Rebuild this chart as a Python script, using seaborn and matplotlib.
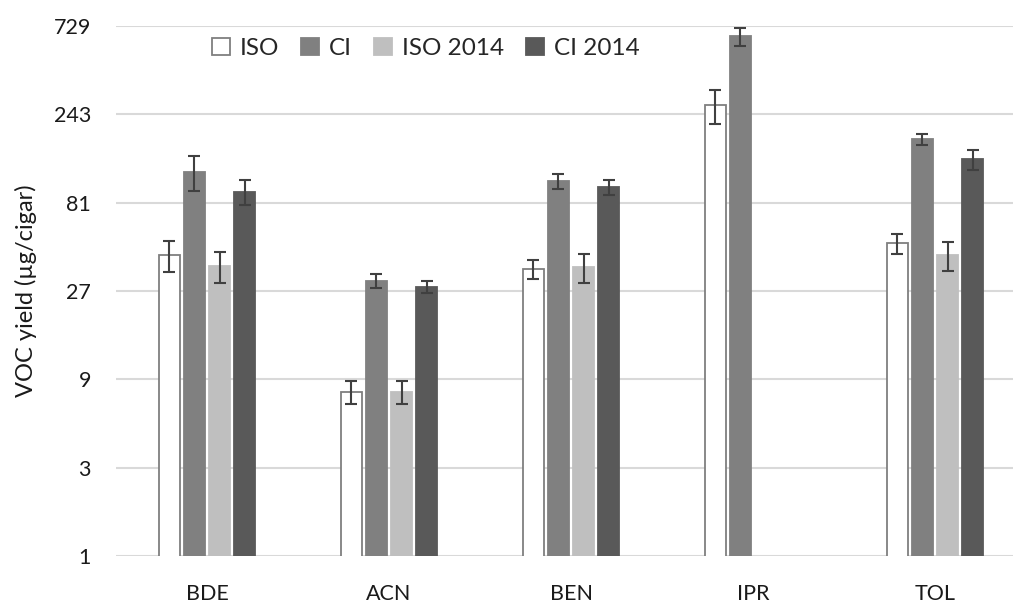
import numpy as np
import pandas as pd
import matplotlib
matplotlib.use('Agg')
import matplotlib.pyplot as plt
from matplotlib.patches import Patch
from matplotlib.ticker import FixedLocator, FixedFormatter, NullLocator
import seaborn as sns

sns.set_style('white')
plt.rcParams['font.family'] = ['Lato', 'DejaVu Sans']

# data
compounds = ['BDE', 'ACN', 'BEN', 'IPR', 'TOL']
series = ['ISO', 'CI', 'ISO 2014', 'CI 2014']
iso = [42, 7.7, 35.5, 272, 49]
ci = [119, 30.6, 106, 640, 178]
iso_2014 = [37, 7.7, 36.5, np.nan, 42]
ci_2014 = [93, 28.4, 98, np.nan, 139]
iso_err = [8, 1.1, 4, 57, 6]
ci_err = [25, 2.7, 10, 75, 12]
iso_2014_err = [7, 1.1, 6.5, np.nan, 7.5]
ci_2014_err = [14, 2.2, 9, np.nan, 17]
yticks = [1, 3, 9, 27, 81, 243, 729]

colors = ['#ffffff', '#808080', '#bfbfbf', '#595959']
edges = ['#7f7f7f', '#808080', '#bfbfbf', '#595959']

vals = [iso, ci, iso_2014, ci_2014]
errs = [iso_err, ci_err, iso_2014_err, ci_2014_err]
rows = []
for s, v, e in zip(series, vals, errs):
    for c, vv, ee in zip(compounds, v, e):
        if not np.isnan(vv):
            rows.append({'Compound': c, 'Series': s, 'Yield': vv, 'Err': ee})
df = pd.DataFrame(rows)

fig = plt.figure(figsize=(10.13, 6.05), dpi=100)
ax = fig.add_axes([116 / 1013, 1 - 556 / 605, 910 / 1013, 530 / 605])

sns.barplot(data=df, x='Compound', y='Yield', hue='Series', order=compounds,
            hue_order=series, palette=colors, width=0.55, gap=0.16,
            errorbar=None, legend=False, ax=ax, zorder=2)

err_lookup = {(r.Compound, r.Series): r.Err for r in df.itertuples()}
bar_conts = list(ax.containers)
for k, cont in enumerate(bar_conts):
    for bar in cont:
        bar.set_edgecolor(edges[k])
        bar.set_linewidth(1.3)
        xc = bar.get_x() + bar.get_width() / 2
        h = bar.get_height()
        if np.isnan(h) or h <= 0:
            continue
        comp = compounds[int(round(xc))]
        e = err_lookup[(comp, series[k])]
        ax.errorbar(xc, h, yerr=e, color='#404040', capsize=4.2,
                    elinewidth=1.5, capthick=1.5, zorder=3)

ax.set_yscale('log')
ax.set_ylim(1, 729)
ax.set_xlim(-0.5, 4.5)
ax.yaxis.set_major_locator(FixedLocator(yticks))
ax.yaxis.set_major_formatter(FixedFormatter([str(t) for t in yticks]))
ax.yaxis.set_minor_locator(NullLocator())
ax.grid(axis='y', color='#d9d9d9', linewidth=1.5)
ax.set_axisbelow(True)
for sp in ax.spines.values():
    sp.set_visible(False)
ax.tick_params(axis='y', length=0, pad=18, labelsize=15.5, labelcolor='#1a1a1a')
ax.tick_params(axis='x', length=0, pad=20, labelsize=15.5, labelcolor='#1a1a1a')
ax.set_xlabel('')
ax.set_ylabel('VOC yield (µg/cigar)', fontsize=17, color='#1a1a1a', labelpad=12)

handles = [Patch(facecolor=c, edgecolor=e, linewidth=1.3) for c, e in zip(colors, edges)]
ax.legend(handles=handles, labels=series, loc='center left',
          bbox_to_anchor=(0.1055, 0.958), ncol=4, frameon=False,
          fontsize=17.5, handlelength=0.75, handleheight=0.75,
          handletextpad=0.4, columnspacing=0.9, borderpad=0, borderaxespad=0)

fig.savefig('out.png', dpi=100)
